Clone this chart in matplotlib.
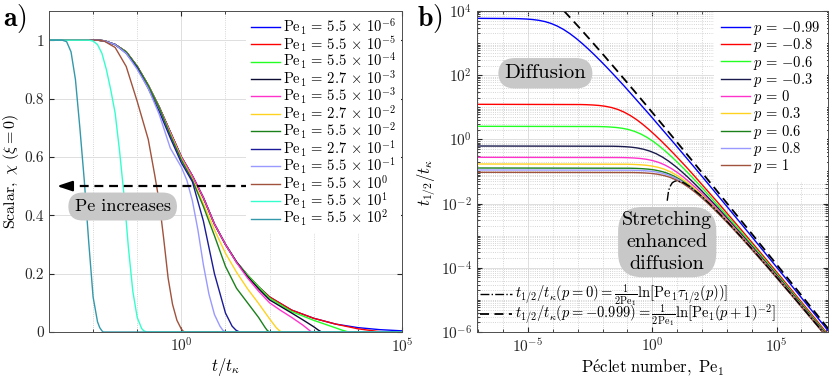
import numpy as np
import matplotlib
matplotlib.use('Agg')
from matplotlib import pyplot as plt
from matplotlib.ticker import LogLocator, NullFormatter, FixedLocator

plt.rcParams['mathtext.fontset'] = 'cm'
plt.rcParams['font.family'] = 'serif'
plt.rcParams['font.serif'] = ['cmr10', 'DejaVu Serif']
plt.rcParams['axes.formatter.use_mathtext'] = True
plt.rcParams['axes.unicode_minus'] = False

# ---------------- panel a: scalar at xi=0 vs t/t_kappa (log10 t, chi) ----------------
pe_labels = ['5.5\\times10^{-6}', '5.5\\times10^{-5}', '5.5\\times10^{-4}', '2.7\\times10^{-3}',
             '5.5\\times10^{-3}', '2.7\\times10^{-2}', '5.5\\times10^{-2}', '2.7\\times10^{-1}',
             '5.5\\times10^{-1}', '5.5\\times10^{0}', '5.5\\times10^{1}', '5.5\\times10^{2}']
a_colors = ['#0000ff', '#ff0000', '#22ff22', '#0d0d33', '#ff33cc', '#ffd21f',
            '#1a801a', '#1a1a99', '#9999ff', '#a0523c', '#33ffcc', '#3399aa']

# common diffusive envelope (smallest Pe)
env_lt = [-3, -1.9, -1.75, -1.5, -1.25, -1.0, -0.75, -0.5, -0.25, 0, 0.25, 0.5, 0.75, 1.0,
          1.25, 1.5, 1.75, 2.0, 2.5, 3.0, 3.5, 4.0, 4.5, 5.0]
env_chi = [1, 1, 0.998, 0.985, 0.96, 0.91, 0.845, 0.77, 0.685, 0.60, 0.535, 0.46, 0.37, 0.30,
           0.24, 0.195, 0.155, 0.12, 0.075, 0.047, 0.027, 0.015, 0.008, 0.004]

lt_red = env_lt[:21] + [4.0, 4.25, 4.45, 4.58, 5.0]
chi_red = env_chi[:21] + [0.011, 0.006, 0.002, 0, 0]
lt_green = env_lt[:17] + [2.0, 2.5, 3.0, 3.25, 3.5, 3.65, 3.79, 5.0]
chi_green = env_chi[:17] + [0.116, 0.07, 0.040, 0.027, 0.014, 0.006, 0, 0]
lt_black = env_lt[:15] + [1.5, 1.75, 2.0, 2.5, 2.75, 3.0, 3.1, 3.18, 5.0]
chi_black = env_chi[:15] + [0.19, 0.148, 0.11, 0.065, 0.042, 0.018, 0.007, 0, 0]
lt_pink = env_lt[:14] + [1.25, 1.5, 1.75, 2.0, 2.25, 2.5, 2.75, 2.9, 2.95, 5.0]
chi_pink = env_chi[:14] + [0.238, 0.185, 0.14, 0.10, 0.074, 0.05, 0.024, 0.006, 0, 0]
lt_yellow = [-3, -1.9, -1.75, -1.5, -1.25, -1.0, -0.75, -0.5, -0.25, 0, 0.25, 0.5, 0.75, 1.0,
             1.25, 1.5, 1.75, 2.0, 2.15, 2.22, 2.27, 5.0]
chi_yellow = [1, 1, 0.998, 0.985, 0.96, 0.91, 0.845, 0.768, 0.68, 0.595, 0.525, 0.44, 0.35, 0.27,
              0.205, 0.148, 0.098, 0.045, 0.015, 0.005, 0, 0]
lt_dkgreen = [-3, -1.9, -1.75, -1.5, -1.25, -1.0, -0.75, -0.5, -0.25, 0, 0.25, 0.5, 0.75, 1.0,
              1.25, 1.5, 1.75, 1.9, 1.95, 2.0, 5.0]
chi_dkgreen = [1, 1, 0.998, 0.985, 0.96, 0.91, 0.845, 0.768, 0.675, 0.59, 0.52, 0.43, 0.33, 0.225,
               0.15, 0.1, 0.05, 0.015, 0.005, 0, 0]
lt_navy = [-3, -1.9, -1.75, -1.5, -1.25, -1.0, -0.75, -0.5, -0.25, 0, 0.25, 0.5, 0.75, 1.0,
           1.15, 1.24, 1.32, 5.0]
chi_navy = [1, 1, 0.998, 0.985, 0.955, 0.905, 0.835, 0.755, 0.665, 0.58, 0.515, 0.38, 0.20, 0.065,
            0.02, 0.006, 0, 0]
lt_ltblue = [-3, -1.9, -1.75, -1.5, -1.25, -1.0, -0.75, -0.5, -0.25, 0, 0.125, 0.25, 0.375, 0.5,
             0.625, 0.75, 0.875, 0.94, 1.0, 5.0]
chi_ltblue = [1, 1, 0.998, 0.985, 0.955, 0.90, 0.835, 0.745, 0.63, 0.565, 0.52, 0.45, 0.35, 0.23,
              0.13, 0.06, 0.02, 0.006, 0, 0]
lt_brown = [-3, -1.9, -1.75, -1.5, -1.25, -1.0, -0.75, -0.6, -0.5, -0.4, -0.3, -0.2, -0.1, 0,
            0.04, 0.08, 5.0]
chi_brown = [1, 1, 0.997, 0.975, 0.91, 0.79, 0.66, 0.535, 0.445, 0.32, 0.185, 0.095, 0.04, 0.01,
             0.003, 0, 0]
lt_cyan = [-3, -2.1, -2.0, -1.9, -1.8, -1.7, -1.6, -1.5, -1.4, -1.3, -1.2, -1.1, -1.0, -0.9,
           -0.85, -0.79, 5.0]
chi_cyan = [1, 1, 0.997, 0.985, 0.955, 0.90, 0.83, 0.75, 0.62, 0.47, 0.29, 0.14, 0.05, 0.012,
            0.004, 0, 0]
lt_teal = [-3, -2.7, -2.6, -2.5, -2.4, -2.3, -2.2, -2.1, -2.0, -1.9, -1.85, -1.8, -1.77, 5.0]
chi_teal = [1, 1, 0.995, 0.96, 0.865, 0.70, 0.52, 0.31, 0.12, 0.035, 0.015, 0.004, 0, 0]

a_lt = [env_lt, lt_red, lt_green, lt_black, lt_pink, lt_yellow, lt_dkgreen, lt_navy,
        lt_ltblue, lt_brown, lt_cyan, lt_teal]
a_chi = [env_chi, chi_red, chi_green, chi_black, chi_pink, chi_yellow, chi_dkgreen, chi_navy,
         chi_ltblue, chi_brown, chi_cyan, chi_teal]

# ---------------- panel b: half time vs Peclet (log10 Pe, log10 t) ----------------
p_labels = ['{-}0.99', '{-}0.8', '{-}0.6', '{-}0.3', '0', '0.3', '0.6', '0.8', '1']
b_colors = ['#0000ff', '#ff0000', '#22ff22', '#1a1a4d', '#ff33cc', '#ffd21f',
            '#1a801a', '#9999ff', '#a0523c']

lpe_m099 = [-7.05, -5.57, -5.32, -5.07, -4.82, -4.57, -4.32, -4.07, -3.82, -3.57, -3.32, -3.07,
            -2.82, -2.57, -2.32, -2.07, -1.82, -1.57, -1.32, -1.07, -0.07, 0.93, 1.93, 2.93,
            3.93, 4.93, 5.93, 6.93, 7.1]
lt_m099 = [3.771, 3.764, 3.759, 3.750, 3.735, 3.710, 3.671, 3.612, 3.530, 3.425, 3.298, 3.151,
           2.988, 2.813, 2.628, 2.435, 2.236, 2.031, 1.823, 1.610, 0.735, -0.168, -1.089, -2.022,
           -2.964, -3.913, -4.867, -5.825, -5.991]
lpe_m08 = [-7.05, -2.89, -2.64, -2.39, -2.14, -1.89, -1.64, -1.39, -1.14, -0.89, -0.64, -0.39,
           -0.14, 0.11, 0.36, 0.61, 0.86, 1.11, 1.36, 1.61, 2.61, 3.61, 4.61, 5.61, 6.61, 7.1]
lt_m08 = [1.093, 1.086, 1.081, 1.072, 1.057, 1.032, 0.993, 0.934, 0.852, 0.747, 0.620, 0.473,
          0.310, 0.135, -0.050, -0.243, -0.442, -0.647, -0.855, -1.068, -1.943, -2.846, -3.767,
          -4.700, -5.642, -6.110]
lpe_m06 = [-7.05, -2.21, -1.96, -1.71, -1.46, -1.21, -0.96, -0.71, -0.46, -0.21, 0.04, 0.29,
           0.54, 0.79, 1.04, 1.29, 1.54, 1.79, 2.04, 2.29, 3.29, 4.29, 5.29, 6.29, 7.1]
lt_m06 = [0.408, 0.401, 0.396, 0.387, 0.372, 0.347, 0.308, 0.249, 0.167, 0.062, -0.065, -0.212,
          -0.375, -0.550, -0.735, -0.928, -1.127, -1.332, -1.540, -1.753, -2.628, -3.531,
          -4.452, -5.385, -6.147]
lpe_m03 = [-7.05, -1.60, -1.35, -1.10, -0.85, -0.60, -0.35, -0.10, 0.16, 0.41, 0.66, 0.91,
           1.16, 1.41, 1.66, 1.91, 2.16, 2.41, 2.66, 2.91, 3.91, 4.91, 5.91, 6.91, 7.1]
lt_m03 = [-0.206, -0.213, -0.218, -0.227, -0.242, -0.267, -0.307, -0.365, -0.447, -0.552,
          -0.679, -0.826, -0.989, -1.164, -1.349, -1.542, -1.741, -1.946, -2.154, -2.367,
          -3.242, -4.145, -5.066, -5.999, -6.182]
lpe_0 = [-7.05, -1.24, -0.99, -0.74, -0.49, -0.24, 0.01, 0.26, 0.51, 0.76, 1.01, 1.26, 1.51,
         1.76, 2.01, 2.26, 2.51, 2.76, 3.01, 3.26, 4.26, 5.26, 6.26, 7.1]
lt_0 = [-0.558, -0.565, -0.570, -0.579, -0.594, -0.619, -0.659, -0.717, -0.799, -0.904, -1.031,
        -1.178, -1.341, -1.516, -1.701, -1.894, -2.093, -2.298, -2.506, -2.719, -3.594, -4.497,
        -5.418, -6.204]
lpe_03 = [-7.05, -1.04, -0.79, -0.54, -0.29, -0.04, 0.22, 0.47, 0.72, 0.97, 1.22, 1.47, 1.72,
          1.97, 2.22, 2.47, 2.72, 2.97, 3.22, 3.47, 4.47, 5.47, 6.47, 7.1]
lt_03 = [-0.766, -0.773, -0.778, -0.787, -0.802, -0.827, -0.867, -0.925, -1.007, -1.112, -1.239,
         -1.386, -1.549, -1.724, -1.909, -2.102, -2.301, -2.506, -2.714, -2.927, -3.802, -4.705,
         -5.626, -6.218]
lpe_06 = [-7.05, -0.91, -0.66, -0.41, -0.16, 0.09, 0.34, 0.59, 0.84, 1.09, 1.34, 1.59, 1.84,
          2.09, 2.34, 2.59, 2.84, 3.09, 3.34, 3.59, 4.59, 5.59, 6.59, 7.1]
lt_06 = [-0.891, -0.898, -0.903, -0.912, -0.927, -0.952, -0.992, -1.050, -1.132, -1.237, -1.364,
         -1.511, -1.674, -1.849, -2.034, -2.227, -2.426, -2.631, -2.839, -3.052, -3.927, -4.830,
         -5.751, -6.227]
lpe_08 = [-7.05, -0.85, -0.60, -0.35, -0.10, 0.15, 0.40, 0.65, 0.90, 1.15, 1.40, 1.65, 1.90,
          2.15, 2.40, 2.65, 2.90, 3.15, 3.40, 3.65, 4.65, 5.65, 6.65, 7.1]
lt_08 = [-0.953, -0.960, -0.965, -0.974, -0.989, -1.014, -1.054, -1.112, -1.194, -1.299, -1.426,
         -1.573, -1.736, -1.911, -2.096, -2.289, -2.488, -2.693, -2.901, -3.114, -3.989, -4.892,
         -5.813, -6.231]
lpe_1 = [-7.05, -0.78, -0.53, -0.28, -0.03, 0.22, 0.47, 0.72, 0.97, 1.22, 1.47, 1.72, 1.97,
         2.22, 2.47, 2.72, 2.97, 3.22, 3.47, 3.72, 4.72, 5.72, 6.72, 7.1]
lt_1 = [-1.025, -1.032, -1.037, -1.046, -1.061, -1.086, -1.126, -1.184, -1.266, -1.371, -1.498,
        -1.645, -1.808, -1.983, -2.168, -2.361, -2.560, -2.765, -2.973, -3.186, -4.061, -4.964,
        -5.885, -6.236]

b_lpe = [lpe_m099, lpe_m08, lpe_m06, lpe_m03, lpe_0, lpe_03, lpe_06, lpe_08, lpe_1]
b_lt = [lt_m099, lt_m08, lt_m06, lt_m03, lt_0, lt_03, lt_06, lt_08, lt_1]

# asymptotes
lpe_dd = [0.6, 0.65, 0.7, 0.8, 0.9, 1.0, 1.25, 1.5, 2.0, 2.5, 3.0, 4.0, 5.0, 6.0, 7.0, 7.1]
lt_dd = [-1.911, -1.623, -1.485, -1.354, -1.304, -1.293, -1.348, -1.465, -1.780, -2.150,
         -2.551, -3.402, -4.291, -5.203, -6.130, -6.223]
lpe_da = [-3.55, -3.5, -3, -2.5, -2, -1.5, -1, -0.5, 0, 0.5, 1, 1.5, 2, 3, 4, 5, 6, 7, 7.1]
lt_da = [4.0, 3.959, 3.538, 3.105, 2.663, 2.214, 1.760, 1.301, 0.839, 0.374, -0.094, -0.564,
         -1.036, -1.985, -2.939, -3.897, -4.860, -5.825, -5.921]

fig = plt.figure(figsize=(8.3, 3.78), dpi=100)
ax1 = fig.add_axes([0.0590, 0.1217, 0.4253, 0.8492])
ax2 = fig.add_axes([0.5747, 0.1217, 0.4233, 0.8492])

grid_major = dict(color='#dedede', linestyle='-', linewidth=0.7)
grid_minor = dict(color='#c8c8c8', linestyle=':', linewidth=0.6)


def style_axes(ax):
    for s in ax.spines.values():
        s.set_color('#4d4d4d')
        s.set_linewidth(0.7)
    ax.tick_params(which='both', direction='in', top=True, right=True, colors='#262626',
                   labelsize=11)
    ax.tick_params(which='major', length=3.5)
    ax.tick_params(which='minor', length=2)
    ax.set_axisbelow(True)


# ---- panel a ----
for i in range(len(a_lt)):
    ax1.plot(10 ** np.array(a_lt[i]), a_chi[i], color=a_colors[i], lw=1.0,
             label=r'$\mathrm{Pe}_1 \,=\, ' + pe_labels[i].replace('\\times', '\\,\\times\\,') + '$')
ax1.set_xscale('log')
ax1.set_xlim(1e-3, 1e5)
ax1.set_ylim(0, 1.1)
ax1.xaxis.set_major_locator(FixedLocator([1e0, 1e5]))
ax1.xaxis.set_minor_locator(FixedLocator([1e-2, 1e-1, 1e1, 1e2, 1e3, 1e4]))
ax1.xaxis.set_minor_formatter(NullFormatter())
ax1.set_yticks([0, 0.2, 0.4, 0.6, 0.8, 1.0])
ax1.set_yticklabels(['0', '0.2', '0.4', '0.6', '0.8', '1'])
ax1.grid(True, which='major', **grid_major)
ax1.grid(True, which='minor', axis='x', **grid_minor)
style_axes(ax1)
ax1.set_xlabel(r'$t/t_\kappa$', fontsize=12)
ax1.xaxis.set_label_coords(0.5, -0.075)
ax1.set_ylabel(r'$\mathrm{Scalar,}\ \chi\ (\xi=0)$', fontsize=11.5)
ax1.yaxis.set_label_coords(-0.078, 0.5)
leg1 = ax1.legend(loc='upper right', fontsize=10.5, handlelength=2.0, handletextpad=0.2,
                  labelspacing=-0.2, borderaxespad=0.1, borderpad=0.3, frameon=True,
                  fancybox=False, framealpha=1)
leg1.get_frame().set_edgecolor('none')

# arrow "Pe increases"
ax1.plot([10 ** 1.55, 10 ** -2.6], [0.5, 0.5], color='k', lw=1.6, ls=(0, (4, 2.6)))
ax1.annotate('', xy=(10 ** -2.82, 0.5), xytext=(10 ** -2.55, 0.5),
             arrowprops=dict(arrowstyle='-|>,head_length=0.9,head_width=0.3', color='k', lw=1.6,
                             shrinkA=0, shrinkB=0))
ax1.text(10 ** -1.33, 0.43, 'Pe increases', fontsize=13, ha='center', va='center',
         bbox=dict(boxstyle='round,pad=0.35,rounding_size=0.8', fc='#c8c8c8', ec='none'))

# ---- panel b ----
for i in range(len(b_lpe)):
    ax2.plot(10 ** np.array(b_lpe[i]), 10 ** np.array(b_lt[i]), color=b_colors[i], lw=1.0,
             label=r'$p \,=\, ' + p_labels[i] + '$')
h_dd, = ax2.plot(10 ** np.array(lpe_dd), 10 ** np.array(lt_dd), color='k', lw=1.0, ls='-.',
                 label=r'$t_{1/2}/t_\kappa(p=0) = \frac{1}{2\mathrm{Pe}_1}\ln[\mathrm{Pe}_1\tau_{1/2}(p))]$')
h_da, = ax2.plot(10 ** np.array(lpe_da), 10 ** np.array(lt_da), color='k', lw=1.3,
                 ls=(0, (5, 3)),
                 label=r'$t_{1/2}/t_\kappa(p={-}0.999) = \frac{1}{2\mathrm{Pe}_1}\ln[\mathrm{Pe}_1(p+1)^{-2}]$')
ax2.set_xscale('log')
ax2.set_yscale('log')
ax2.set_xlim(10 ** -7.05, 10 ** 7.08)
ax2.set_ylim(1e-6, 1e4)
ax2.xaxis.set_major_locator(FixedLocator([1e-5, 1e0, 1e5]))
ax2.xaxis.set_minor_locator(FixedLocator([10.0 ** k for k in range(-7, 8)]))
ax2.xaxis.set_minor_formatter(NullFormatter())
ax2.yaxis.set_major_locator(FixedLocator([1e-6, 1e-4, 1e-2, 1e0, 1e2, 1e4]))
ax2.yaxis.set_minor_locator(LogLocator(base=10, subs=np.arange(1, 10), numticks=40))
ax2.yaxis.set_minor_formatter(NullFormatter())
ax2.grid(True, which='major', **grid_major)
ax2.grid(True, which='minor', **grid_minor)
style_axes(ax2)
ax2.set_xlabel(r'$\mathrm{P\acute{e}clet\ number,\ Pe}_1$', fontsize=12)
ax2.xaxis.set_label_coords(0.5, -0.078)
ax2.set_ylabel(r'$t_{1/2}/t_\kappa$', fontsize=12)
ax2.yaxis.set_label_coords(-0.112, 0.465)

handles, labels = ax2.get_legend_handles_labels()
leg2 = ax2.legend(handles[:9], labels[:9], loc='upper right', fontsize=10.5, handlelength=2.0,
                  handletextpad=0.2, labelspacing=-0.05, borderaxespad=0.1, borderpad=0.45,
                  frameon=True, fancybox=False, framealpha=1)
leg2.get_frame().set_edgecolor('none')
ax2.add_artist(leg2)
leg3 = ax2.legend([h_dd, h_da], [h_dd.get_label(), h_da.get_label()], loc='lower left',
                  fontsize=10.5, handlelength=2.2, handletextpad=0.2, labelspacing=-0.45,
                  borderaxespad=0.05, borderpad=0.15, frameon=False)

ax2.text(10 ** -4.3, 10 ** 2.06, 'Diffusion', fontsize=15, ha='center', va='center',
         bbox=dict(boxstyle='round,pad=0.3,rounding_size=0.8', fc='#c8c8c8', ec='none'))
ax2.text(10 ** 0.6, 10 ** -3.2, 'Stretching\nenhanced\ndiffusion', fontsize=14.5, ha='center',
         va='center', linespacing=1.3,
         bbox=dict(boxstyle='round,pad=0.2,rounding_size=1.2', fc='#c8c8c8', ec='none'))

fig.text(0.004, 0.995, r'$\mathbf{a)}$', fontsize=20, ha='left', va='top')
fig.text(0.502, 0.995, r'$\mathbf{b)}$', fontsize=20, ha='left', va='top')

fig.savefig('out.png', dpi=100)
